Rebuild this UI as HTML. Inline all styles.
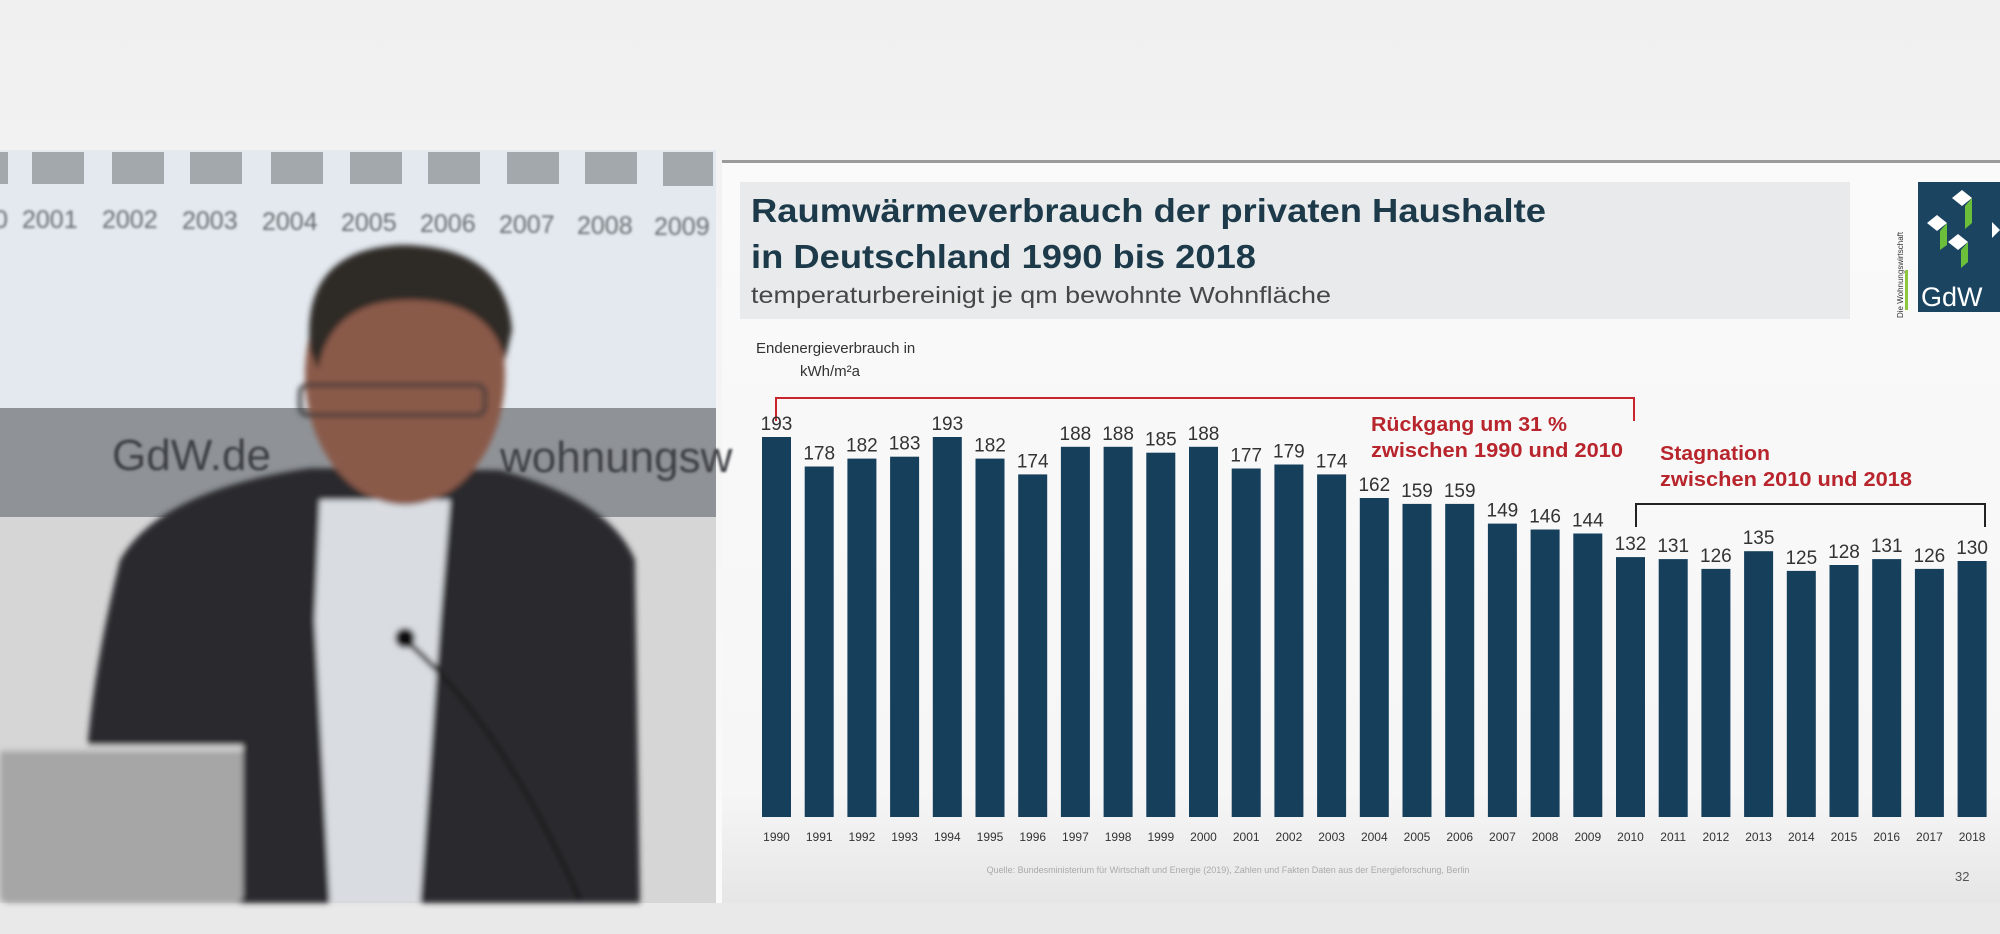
<!DOCTYPE html>
<html><head><meta charset="utf-8"><style>
html,body{margin:0;padding:0;width:2000px;height:934px;overflow:hidden;background:#f2f2f2}
svg{display:block}
text{font-family:"Liberation Sans",sans-serif}
</style></head><body>
<svg width="2000" height="934" viewBox="0 0 2000 934" xmlns="http://www.w3.org/2000/svg">
<defs>
<linearGradient id="top" x1="0" y1="0" x2="0" y2="1"><stop offset="0" stop-color="#f0f0f0"/><stop offset="1" stop-color="#fbfbfb"/></linearGradient>
<linearGradient id="slide" x1="0" y1="0" x2="0" y2="1"><stop offset="0" stop-color="#fafafa"/><stop offset="0.85" stop-color="#f6f6f6"/><stop offset="1" stop-color="#e6e6e6"/></linearGradient>
<filter id="bl"><feGaussianBlur stdDeviation="3"/></filter>
<filter id="bl2"><feGaussianBlur stdDeviation="1.2"/></filter>
</defs>
<rect width="2000" height="934" fill="url(#top)"/>
<rect x="0" y="903" width="2000" height="31" fill="#e9e9e9"/>
<rect x="722" y="160" width="1278" height="743" fill="url(#slide)"/>
<rect x="722" y="160" width="1278" height="3" fill="#9a9a9a"/>
<g>
<rect x="0" y="150" width="716" height="753" fill="#d6d6d6"/>
<rect x="0" y="150" width="716" height="258" fill="#e3e9ef"/>
<g fill="#a3a8ad">
<rect x="0" y="152" width="8" height="32"/><rect x="32" y="152" width="52" height="32"/><rect x="112" y="152" width="52" height="32"/><rect x="190" y="152" width="52" height="32"/><rect x="271" y="152" width="52" height="32"/><rect x="350" y="152" width="52" height="32"/><rect x="428" y="152" width="52" height="32"/><rect x="507" y="152" width="52" height="32"/><rect x="585" y="152" width="52" height="32"/><rect x="663" y="152" width="50" height="34"/>
</g>
<g fill="#6a6e72" font-size="25" filter="url(#bl2)">
<text x="-6" y="228">0</text><text x="22" y="228">2001</text><text x="102" y="228">2002</text><text x="182" y="229">2003</text><text x="262" y="230">2004</text><text x="341" y="231">2005</text><text x="420" y="232">2006</text><text x="499" y="233">2007</text><text x="577" y="234">2008</text><text x="654" y="235">2009</text>
</g>
<rect x="0" y="408" width="716" height="109" fill="#8f9398"/>
<text x="112" y="470" font-size="44" fill="#3c4045" filter="url(#bl2)">GdW.de</text>
<text x="500" y="472" font-size="44" fill="#3c4045" filter="url(#bl2)">wohnungsw</text>
<g filter="url(#bl)">
<path d="M120 560 Q160 490 310 468 L500 470 Q610 500 635 560 L640 903 L90 903 Q70 760 120 560Z" fill="#2a2b2f"/>
<path d="M320 500 L450 500 L440 620 L420 903 L330 903 L315 620Z" fill="#d9dde2"/>
<ellipse cx="405" cy="375" rx="100" ry="130" fill="#8a5a48"/>
<path d="M310 350 Q300 250 400 245 Q505 245 512 330 L505 360 Q490 300 410 300 Q330 300 318 370Z" fill="#2e2a28"/>
<rect x="300" y="385" width="185" height="30" rx="8" fill="none" stroke="#3a3a3a" stroke-width="4"/>
<path d="M405 640 Q500 720 580 900" stroke="#1a1a1a" stroke-width="5" fill="none"/>
<circle cx="405" cy="638" r="10" fill="#111"/>
<rect x="0" y="745" width="243" height="158" rx="8" fill="#a6a6a6"/>
<rect x="0" y="745" width="243" height="6" fill="#d4d4d4"/>
</g>
</g>
<rect x="740" y="182" width="1110" height="137" fill="#e8eaeb"/>
<text x="751" y="222" font-size="33" font-weight="bold" fill="#1c3a4a" textLength="795" lengthAdjust="spacingAndGlyphs">Raumwärmeverbrauch der privaten Haushalte</text>
<text x="751" y="268" font-size="33" font-weight="bold" fill="#1c3a4a" textLength="505" lengthAdjust="spacingAndGlyphs">in Deutschland 1990 bis 2018</text>
<text x="751" y="303" font-size="23" fill="#474747" textLength="580" lengthAdjust="spacingAndGlyphs">temperaturbereinigt je qm bewohnte Wohnfläche</text>
<rect x="1918" y="182" width="82" height="130" fill="#1b4461"/>
<g fill="#fff"><path d="M1962 190 l10 8 -10 8 -10 -8z"/><path d="M1937 215 l10 8 -10 8 -10 -8z"/><path d="M1958 234 l10 8 -10 8 -10 -8z"/><path d="M1992 222 l8 8 -8 8z"/></g>
<g fill="#6cbf3a"><path d="M1965 206 l7 -8 v25 l-7 6z"/><path d="M1940 231 l7 -8 v22 l-7 5z"/><path d="M1961 250 l7 -8 v20 l-7 6z"/></g>
<text x="1921" y="306" font-size="27" fill="#fff">GdW</text>
<text transform="translate(1903 318) rotate(-90)" font-size="8" fill="#333">Die Wohnungswirtschaft</text>
<rect x="1905" y="270" width="3" height="40" fill="#8dc63f"/>
<text x="756" y="353" font-size="15" fill="#333">Endenergieverbrauch  in</text>
<text x="800" y="376" font-size="15" fill="#333">kWh/m²a</text>
<path d="M776 421 V398 H1634 V421" fill="none" stroke="#c8262c" stroke-width="2"/>
<path d="M1636 527 V504 H1985 V527" fill="none" stroke="#222" stroke-width="2"/>
<g font-size="20" font-weight="bold" fill="#b8252c">
<text x="1371" y="431" textLength="196" lengthAdjust="spacingAndGlyphs">Rückgang um 31 %</text>
<text x="1371" y="457" textLength="252" lengthAdjust="spacingAndGlyphs">zwischen 1990 und 2010</text>
<text x="1660" y="460" textLength="110" lengthAdjust="spacingAndGlyphs">Stagnation</text>
<text x="1660" y="486" textLength="252" lengthAdjust="spacingAndGlyphs">zwischen 2010 und 2018</text>
</g>
<g fill="#163f5c">
<rect x="762" y="437" width="29" height="380"/>
<rect x="804.7" y="466.5" width="29" height="350.5"/>
<rect x="847.4" y="458.6" width="29" height="358.4"/>
<rect x="890.1" y="456.7" width="29" height="360.3"/>
<rect x="932.8" y="437" width="29" height="380"/>
<rect x="975.5" y="458.6" width="29" height="358.4"/>
<rect x="1018.2" y="474.4" width="29" height="342.6"/>
<rect x="1060.9" y="446.8" width="29" height="370.2"/>
<rect x="1103.6" y="446.8" width="29" height="370.2"/>
<rect x="1146.3" y="452.7" width="29" height="364.3"/>
<rect x="1189" y="446.8" width="29" height="370.2"/>
<rect x="1231.7" y="468.5" width="29" height="348.5"/>
<rect x="1274.4" y="464.5" width="29" height="352.5"/>
<rect x="1317.1" y="474.4" width="29" height="342.6"/>
<rect x="1359.8" y="498" width="29" height="319"/>
<rect x="1402.5" y="503.9" width="29" height="313.1"/>
<rect x="1445.2" y="503.9" width="29" height="313.1"/>
<rect x="1487.9" y="523.6" width="29" height="293.4"/>
<rect x="1530.6" y="529.5" width="29" height="287.5"/>
<rect x="1573.3" y="533.5" width="29" height="283.5"/>
<rect x="1616" y="557.1" width="29" height="259.9"/>
<rect x="1658.7" y="559.1" width="29" height="257.9"/>
<rect x="1701.4" y="568.9" width="29" height="248.1"/>
<rect x="1744.1" y="551.2" width="29" height="265.8"/>
<rect x="1786.8" y="570.9" width="29" height="246.1"/>
<rect x="1829.5" y="565" width="29" height="252"/>
<rect x="1872.2" y="559.1" width="29" height="257.9"/>
<rect x="1914.9" y="568.9" width="29" height="248.1"/>
<rect x="1957.6" y="561" width="29" height="256"/>
</g>
<g font-size="19" fill="#333" text-anchor="middle">
<text x="776.5" y="430">193</text>
<text x="819.2" y="459.5">178</text>
<text x="861.9" y="451.6">182</text>
<text x="904.6" y="449.7">183</text>
<text x="947.3" y="430">193</text>
<text x="990" y="451.6">182</text>
<text x="1032.7" y="467.4">174</text>
<text x="1075.4" y="439.8">188</text>
<text x="1118.1" y="439.8">188</text>
<text x="1160.8" y="445.7">185</text>
<text x="1203.5" y="439.8">188</text>
<text x="1246.2" y="461.5">177</text>
<text x="1288.9" y="457.5">179</text>
<text x="1331.6" y="467.4">174</text>
<text x="1374.3" y="491">162</text>
<text x="1417" y="496.9">159</text>
<text x="1459.7" y="496.9">159</text>
<text x="1502.4" y="516.6">149</text>
<text x="1545.1" y="522.5">146</text>
<text x="1587.8" y="526.5">144</text>
<text x="1630.5" y="550.1">132</text>
<text x="1673.2" y="552.1">131</text>
<text x="1715.9" y="561.9">126</text>
<text x="1758.6" y="544.2">135</text>
<text x="1801.3" y="563.9">125</text>
<text x="1844" y="558">128</text>
<text x="1886.7" y="552.1">131</text>
<text x="1929.4" y="561.9">126</text>
<text x="1972.1" y="554">130</text>
</g>
<g font-size="12" fill="#333" text-anchor="middle">
<text x="776.5" y="841">1990</text><text x="819.2" y="841">1991</text><text x="861.9" y="841">1992</text><text x="904.6" y="841">1993</text><text x="947.3" y="841">1994</text><text x="990" y="841">1995</text><text x="1032.7" y="841">1996</text><text x="1075.4" y="841">1997</text><text x="1118.1" y="841">1998</text><text x="1160.8" y="841">1999</text><text x="1203.5" y="841">2000</text><text x="1246.2" y="841">2001</text><text x="1288.9" y="841">2002</text><text x="1331.6" y="841">2003</text><text x="1374.3" y="841">2004</text><text x="1417" y="841">2005</text><text x="1459.7" y="841">2006</text><text x="1502.4" y="841">2007</text><text x="1545.1" y="841">2008</text><text x="1587.8" y="841">2009</text><text x="1630.5" y="841">2010</text><text x="1673.2" y="841">2011</text><text x="1715.9" y="841">2012</text><text x="1758.6" y="841">2013</text><text x="1801.3" y="841">2014</text><text x="1844" y="841">2015</text><text x="1886.7" y="841">2016</text><text x="1929.4" y="841">2017</text><text x="1972.1" y="841">2018</text>
</g>
<text x="1228" y="873" font-size="9" fill="#aaa" text-anchor="middle">Quelle: Bundesministerium für Wirtschaft und Energie (2019), Zahlen und Fakten Daten aus der Energieforschung, Berlin</text>
<text x="1955" y="881" font-size="13" fill="#555">32</text>
</svg>
</body></html>
